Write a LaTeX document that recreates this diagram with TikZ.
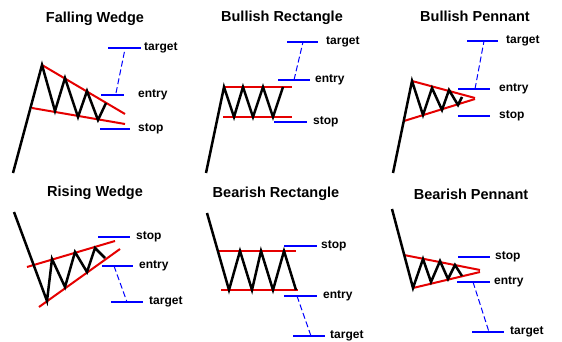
\documentclass[tikz,border=0pt]{standalone}
\usepackage{fontspec}
\setmainfont{Liberation Sans}
\begin{document}
\begin{tikzpicture}[x=1pt,y=-1pt,
  price/.style={line width=2.5pt,black,line join=miter},
  trend/.style={line width=2pt,red!90!black},
  level/.style={line width=1.8pt,blue},
  proj/.style={line width=1pt,blue,dash pattern=on 6pt off 3pt},
  ttl/.style={font=\fontsize{14.5}{16}\selectfont\bfseries,anchor=center},
  lbl/.style={font=\fontsize{12}{14}\selectfont\bfseries,anchor=west,inner sep=1pt,xshift=2pt}]
\useasboundingbox[fill=white] (0,0) rectangle (562,342);

% ---------- Falling Wedge ----------
\node[ttl] (t1) at (95,19) {Falling Wedge};
\coordinate (a0) at (13,173); \coordinate (a1) at (42,65); \coordinate (a2) at (55,111);
\coordinate (a3) at (65,78); \coordinate (a4) at (78,117); \coordinate (a5) at (87,91);
\coordinate (a6) at (98,120); \coordinate (a7) at (106,103);
\coordinate (ar1) at (125,114); \coordinate (ar2) at (32,108); \coordinate (ar3) at (125,124);
\draw[trend] (a1) -- (ar1);
\draw[trend] (ar2) -- (ar3);
\draw[price] (a0) -- (a1) -- (a2) -- (a3) -- (a4) -- (a5) -- (a6) -- (a7);
\coordinate (atl) at (108,48); \coordinate (atr) at (141,48);
\coordinate (ael) at (101,95); \coordinate (aer) at (124,95);
\coordinate (asl) at (100,129); \coordinate (asr) at (130,129);
\draw[level] (atl) -- (atr); \draw[level] (ael) -- (aer); \draw[level] (asl) -- (asr);
\node[lbl] (atx) at (atr) {target};
\node[lbl] (aex) at (135,95) {entry};
\node[lbl] (asx) at (135,129) {stop};
\coordinate (ad1) at (116,93); \coordinate (ad2) at (125,49);
\draw[proj] (ad1) -- (ad2);

% ---------- Bullish Rectangle ----------
\node[ttl] (t2) at (282,18) {Bullish Rectangle};
\coordinate (b0) at (206,173); \coordinate (b1) at (224,87); \coordinate (b2) at (234,117);
\coordinate (b3) at (243,87); \coordinate (b4) at (253,117); \coordinate (b5) at (263,87);
\coordinate (b6) at (273,117); \coordinate (b7) at (283,87);
\coordinate (br1) at (223,87); \coordinate (br2) at (292,87);
\coordinate (br3) at (223,117); \coordinate (br4) at (292,117);
\draw[trend] (br1) -- (br2);
\draw[trend] (br3) -- (br4);
\draw[price] (b0) -- (b1) -- (b2) -- (b3) -- (b4) -- (b5) -- (b6) -- (b7);
\coordinate (btl) at (287,42); \coordinate (btr) at (318,42);
\coordinate (bel) at (278,80); \coordinate (ber) at (310,80);
\coordinate (bsl) at (274,122); \coordinate (bsr) at (307,122);
\draw[level] (btl) -- (btr); \draw[level] (bel) -- (ber); \draw[level] (bsl) -- (bsr);
\node[lbl] (btx) at (323,42) {target};
\node[lbl] (bex) at (312,80) {entry};
\node[lbl] (bsx) at (310,122) {stop};
\coordinate (bd1) at (294,80); \coordinate (bd2) at (303,42);
\draw[proj] (bd1) -- (bd2);

% ---------- Bullish Pennant ----------
\node[ttl] (t3) at (475,16) {Bullish Pennant};
\coordinate (c0) at (393,173); \coordinate (c1) at (412,81); \coordinate (c2) at (423,115);
\coordinate (c3) at (432,88); \coordinate (c4) at (442,110); \coordinate (c5) at (449,90);
\coordinate (c6) at (458,105); \coordinate (c7) at (462,97);
\coordinate (cr1) at (475,98); \coordinate (cr2) at (404,121); \coordinate (cr3) at (475,99);
\draw[trend] (c1) -- (cr1);
\draw[trend] (cr2) -- (cr3);
\draw[price] (c0) -- (c1) -- (c2) -- (c3) -- (c4) -- (c5) -- (c6) -- (c7);
\coordinate (ctl) at (467,41); \coordinate (ctr) at (498,41);
\coordinate (cel) at (458,89); \coordinate (cer) at (490,89);
\coordinate (csl) at (458,116); \coordinate (csr) at (490,116);
\draw[level] (ctl) -- (ctr); \draw[level] (cel) -- (cer); \draw[level] (csl) -- (csr);
\node[lbl] (ctx) at (503,41) {target};
\node[lbl] (cex) at (496,89) {entry};
\node[lbl] (csx) at (496,116) {stop};
\coordinate (cd1) at (475,89); \coordinate (cd2) at (484,41);
\draw[proj] (cd1) -- (cd2);

% ---------- Rising Wedge ----------
\node[ttl] (t4) at (95,193) {Rising Wedge};
\coordinate (d0) at (14,212); \coordinate (d1) at (47,301); \coordinate (d2) at (52,259);
\coordinate (d3) at (65,287); \coordinate (d4) at (75,252); \coordinate (d5) at (87,272);
\coordinate (d6) at (95,248); \coordinate (d7) at (105,258);
\coordinate (dr1) at (27,267); \coordinate (dr2) at (115,241);
\coordinate (dr3) at (39,307); \coordinate (dr4) at (120,249);
\draw[trend] (dr1) -- (dr2);
\draw[trend] (dr3) -- (dr4);
\draw[price] (d0) -- (d1) -- (d2) -- (d3) -- (d4) -- (d5) -- (d6) -- (d7);
\coordinate (dsl) at (98,237); \coordinate (dsr) at (130,237);
\coordinate (del) at (102,266); \coordinate (der) at (133,266);
\coordinate (dtl) at (111,302); \coordinate (dtr) at (143,302);
\draw[level] (dsl) -- (dsr); \draw[level] (del) -- (der); \draw[level] (dtl) -- (dtr);
\node[lbl] (dsx) at (133,237) {stop};
\node[lbl] (dex) at (136,266) {entry};
\node[lbl] (dtx) at (146,302) {target};
\coordinate (dd1) at (114,266); \coordinate (dd2) at (127,302);
\draw[proj] (dd1) -- (dd2);

% ---------- Bearish Rectangle ----------
\node[ttl] (t5) at (276,194) {Bearish Rectangle};
\coordinate (e0) at (207,213); \coordinate (e1) at (229,290); \coordinate (e2) at (240,251);
\coordinate (e3) at (252,290); \coordinate (e4) at (261,251); \coordinate (e5) at (273,290);
\coordinate (e6) at (284,251); \coordinate (e7) at (296,290);
\coordinate (er1) at (219,251); \coordinate (er2) at (296,251);
\coordinate (er3) at (221,290); \coordinate (er4) at (298,290);
\draw[trend] (er1) -- (er2);
\draw[trend] (er3) -- (er4);
\draw[price] (e0) -- (e1) -- (e2) -- (e3) -- (e4) -- (e5) -- (e6) -- (e7);
\coordinate (esl) at (284,246); \coordinate (esr) at (317,246);
\coordinate (eel) at (284,296); \coordinate (eer) at (317,296);
\coordinate (etl) at (293,336); \coordinate (etr) at (325,336);
\draw[level] (esl) -- (esr); \draw[level] (eel) -- (eer); \draw[level] (etl) -- (etr);
\node[lbl] (esx) at (318,246) {stop};
\node[lbl] (eex) at (320,296) {entry};
\node[lbl] (etx) at (327,336) {target};
\coordinate (ed1) at (297,296); \coordinate (ed2) at (311,336);
\draw[proj] (ed1) -- (ed2);

% ---------- Bearish Pennant ----------
\node[ttl] (t6) at (471,194) {Bearish Pennant};
\coordinate (f0) at (392,209); \coordinate (f1) at (413,288); \coordinate (f2) at (423,259);
\coordinate (f3) at (431,282); \coordinate (f4) at (440,261); \coordinate (f5) at (448,279);
\coordinate (f6) at (455,265); \coordinate (f7) at (462,276);
\coordinate (fr1) at (404,255); \coordinate (fr2) at (480,270); \coordinate (fr3) at (480,272);
\draw[trend] (fr1) -- (fr2);
\draw[trend] (f1) -- (fr3);
\draw[price] (f0) -- (f1) -- (f2) -- (f3) -- (f4) -- (f5) -- (f6) -- (f7);
\coordinate (fsl) at (458,257); \coordinate (fsr) at (490,257);
\coordinate (fel) at (457,282); \coordinate (fer) at (490,282);
\coordinate (ftl) at (472,332); \coordinate (ftr) at (504,332);
\draw[level] (fsl) -- (fsr); \draw[level] (fel) -- (fer); \draw[level] (ftl) -- (ftr);
\node[lbl] (fsx) at (492,257) {stop};
\node[lbl] (fex) at (491,282) {entry};
\node[lbl] (ftx) at (507,332) {target};
\coordinate (fd1) at (473,282); \coordinate (fd2) at (489,332);
\draw[proj] (fd1) -- (fd2);
\end{tikzpicture}
\end{document}
